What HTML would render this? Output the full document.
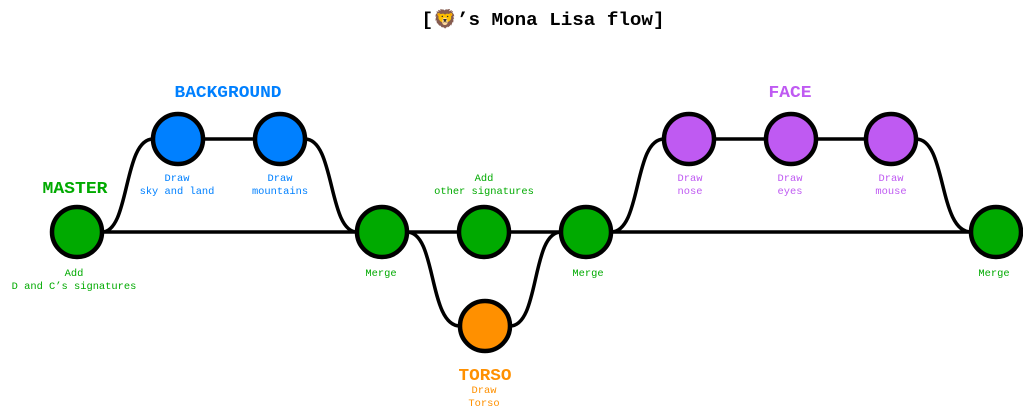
<!DOCTYPE html>
<html><head><meta charset="utf-8"><style>
html,body{margin:0;padding:0;background:#fff;}
svg{display:block;}
.s{font-family:"Liberation Mono",monospace;font-size:10.4px;text-anchor:middle;}
.b{font-family:"Liberation Mono",monospace;font-size:17px;font-weight:bold;text-anchor:middle;}
</style></head><body>
<svg width="1023" height="416" viewBox="0 0 1023 416" xmlns="http://www.w3.org/2000/svg">
<text x="543" y="25" font-family="'Liberation Mono',monospace" font-size="18" font-weight="bold" text-anchor="middle" textLength="243" lengthAdjust="spacingAndGlyphs">[🦁’s Mona Lisa flow]</text>
<g fill="none" stroke="#000" stroke-width="3.5">
<line x1="77" y1="232" x2="996" y2="232"/>
<line x1="178" y1="139" x2="280" y2="139"/>
<line x1="689" y1="139" x2="891" y2="139"/>
<path d="M102,232 C130,232 123,139 153,139"/>
<path d="M305,139 C335,139 328,232 357,232"/>
<path d="M407,232 C437,232 428,326 460,326"/>
<path d="M510,326 C540,326 531,232 561,232"/>
<path d="M611,232 C642,232 633,139 664,139"/>
<path d="M916,139 C947,139 938,232 971,232"/>
</g>
<g stroke="#000" stroke-width="4.5">
<circle cx="77" cy="232" r="25" fill="#00aa00"/>
<circle cx="382" cy="232" r="25" fill="#00aa00"/>
<circle cx="484" cy="232" r="25" fill="#00aa00"/>
<circle cx="586" cy="232" r="25" fill="#00aa00"/>
<circle cx="996" cy="232" r="25" fill="#00aa00"/>
<circle cx="178" cy="139" r="25" fill="#0080ff"/>
<circle cx="280" cy="139" r="25" fill="#0080ff"/>
<circle cx="689" cy="139" r="25" fill="#bf5af2"/>
<circle cx="791" cy="139" r="25" fill="#bf5af2"/>
<circle cx="891" cy="139" r="25" fill="#bf5af2"/>
<circle cx="485" cy="326" r="25" fill="#ff9000"/>
</g>
<g lengthAdjust="spacingAndGlyphs">
<text class="b" x="75" y="193" fill="#00aa00" textLength="65" lengthAdjust="spacingAndGlyphs">MASTER</text>
<text class="b" x="228" y="97" fill="#0080ff" textLength="107" lengthAdjust="spacingAndGlyphs">BACKGROUND</text>
<text class="b" x="790" y="97" fill="#bf5af2" textLength="43" lengthAdjust="spacingAndGlyphs">FACE</text>
<text class="b" x="485" y="380" fill="#ff9000" textLength="53" lengthAdjust="spacingAndGlyphs">TORSO</text>
</g>
<g class="s" fill="#00aa00">
<text x="74" y="276">Add</text><text x="74" y="289">D and C’s signatures</text>
<text x="381" y="276">Merge</text>
<text x="484" y="194" dy="-13">Add</text><text x="484" y="194">other signatures</text>
<text x="588" y="276">Merge</text>
<text x="994" y="276">Merge</text>
</g>
<g class="s" fill="#0080ff">
<text x="177" y="181">Draw</text><text x="177" y="194">sky and land</text>
<text x="280" y="181">Draw</text><text x="280" y="194">mountains</text>
</g>
<g class="s" fill="#bf5af2">
<text x="690" y="181">Draw</text><text x="690" y="194">nose</text>
<text x="790" y="181">Draw</text><text x="790" y="194">eyes</text>
<text x="891" y="181">Draw</text><text x="891" y="194">mouse</text>
</g>
<g class="s" fill="#ff9000">
<text x="484" y="393">Draw</text><text x="484" y="406">Torso</text>
</g>
</svg>
</body></html>
